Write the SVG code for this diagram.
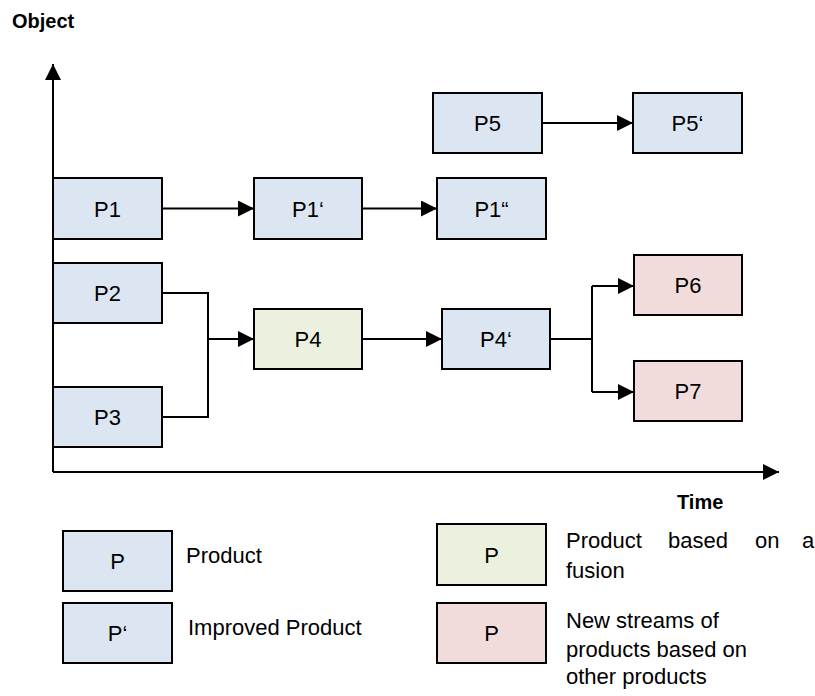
<svg xmlns="http://www.w3.org/2000/svg" width="815" height="696" viewBox="0 0 815 696">
<style>
.box{stroke:#000;stroke-width:2}
.blue{fill:#dce6f2}
.green{fill:#ebf1de}
.pink{fill:#f2dcdb}
.lbl{font-family:"Liberation Sans",Arial,sans-serif;font-size:22px;fill:#000;text-anchor:middle}
.txt{font-family:"Liberation Sans",Arial,sans-serif;font-size:22px;fill:#000}
.ttl{font-family:"Liberation Sans",Arial,sans-serif;font-size:20px;font-weight:bold;fill:#000}
.ln{fill:none;stroke:#000;stroke-width:2}
</style>
<defs>
<marker id="ah" viewBox="0 0 16 16" refX="16" refY="8" markerWidth="16" markerHeight="16" markerUnits="userSpaceOnUse" orient="auto">
<path d="M0,0 L16,8 L0,16 Z" fill="#000"/>
</marker>
</defs>

<text class="ttl" x="12" y="28">Object</text>
<text class="ttl" x="677" y="509">Time</text>

<g id="axes">
<path class="ln" d="M53,472 V64" marker-end="url(#ah)"/>
<path class="ln" d="M53,472 H779" marker-end="url(#ah)"/>
</g>

<g id="connectors">
<path class="ln" d="M162,208.5 H254" marker-end="url(#ah)"/>
<path class="ln" d="M362,208.5 H437" marker-end="url(#ah)"/>
<path class="ln" d="M542,123 H633" marker-end="url(#ah)"/>
<path class="ln" d="M162,293 H208 V417 H162"/>
<path class="ln" d="M208,339 H254" marker-end="url(#ah)"/>
<path class="ln" d="M362,339 H442" marker-end="url(#ah)"/>
<path class="ln" d="M550,339 H592"/>
<path class="ln" d="M592,286 V392"/>
<path class="ln" d="M592,286 H634" marker-end="url(#ah)"/>
<path class="ln" d="M592,392 H634" marker-end="url(#ah)"/>
</g>

<g id="P1"><rect class="box blue" x="53" y="178" width="109" height="61"/><text class="lbl" x="107.5" y="216.5">P1</text></g>
<g id="P1p"><rect class="box blue" x="254" y="178" width="108" height="61"/><text class="lbl" x="308" y="216.5">P1‘</text></g>
<g id="P1pp"><rect class="box blue" x="437" y="178" width="109" height="61"/><text class="lbl" x="491.5" y="216.5">P1“</text></g>
<g id="P5"><rect class="box blue" x="433" y="93" width="109" height="60"/><text class="lbl" x="487.5" y="131">P5</text></g>
<g id="P5p"><rect class="box blue" x="633" y="93" width="109" height="60"/><text class="lbl" x="687.5" y="131">P5‘</text></g>
<g id="P2"><rect class="box blue" x="53" y="263" width="109" height="60"/><text class="lbl" x="107.5" y="301">P2</text></g>
<g id="P3"><rect class="box blue" x="53" y="387" width="109" height="60"/><text class="lbl" x="107.5" y="425">P3</text></g>
<g id="P4"><rect class="box green" x="254" y="309" width="108" height="60"/><text class="lbl" x="308" y="347">P4</text></g>
<g id="P4p"><rect class="box blue" x="442" y="309" width="108" height="60"/><text class="lbl" x="496" y="347">P4‘</text></g>
<g id="P6"><rect class="box pink" x="634" y="255" width="108" height="60"/><text class="lbl" x="688" y="293">P6</text></g>
<g id="P7"><rect class="box pink" x="634" y="361" width="108" height="60"/><text class="lbl" x="688" y="399">P7</text></g>

<g id="legend-product"><rect class="box blue" x="63" y="531" width="109" height="60"/><text class="lbl" x="117.5" y="569">P</text><text class="txt" x="186" y="563">Product</text></g>
<g id="legend-improved"><rect class="box blue" x="63" y="603" width="109" height="60"/><text class="lbl" x="117.5" y="641">P‘</text><text class="txt" x="188" y="635">Improved Product</text></g>
<g id="legend-fusion"><rect class="box green" x="437" y="524" width="109" height="61"/><text class="lbl" x="491.5" y="563">P</text><text class="txt" y="548"><tspan x="566">Product</tspan><tspan x="668">based</tspan><tspan x="755">on</tspan><tspan x="802">a</tspan></text><text class="txt" x="566" y="578">fusion</text></g>
<g id="legend-new"><rect class="box pink" x="437" y="603" width="109" height="60"/><text class="lbl" x="491.5" y="641">P</text><text class="txt" x="566" y="628">New streams of</text><text class="txt" x="566" y="657">products based on</text><text class="txt" x="566" y="684">other products</text></g>
</svg>
